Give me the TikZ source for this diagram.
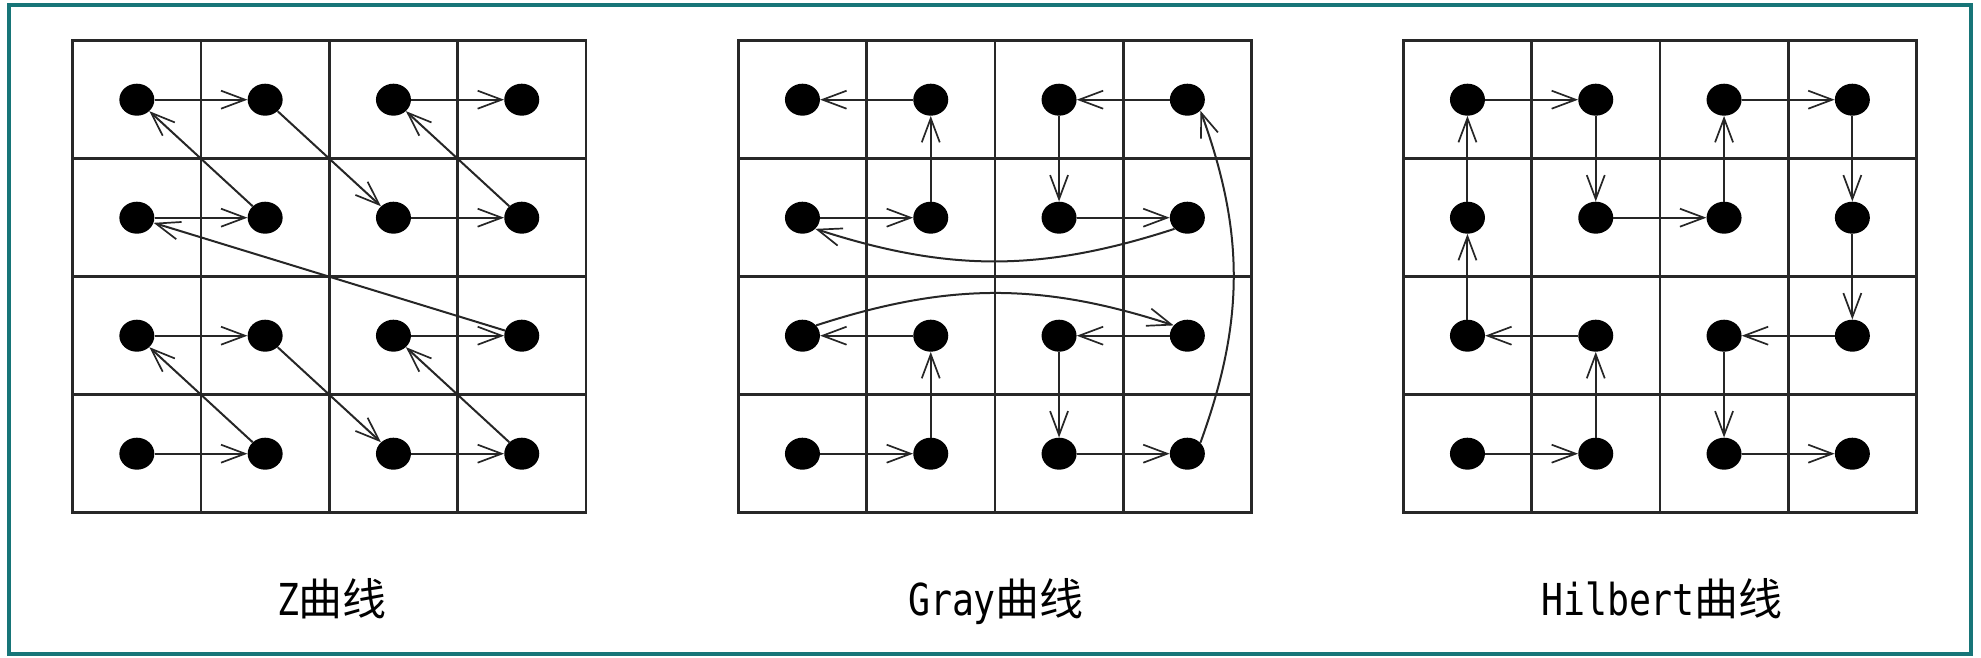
\documentclass[tikz,border=0pt]{standalone}
\usepackage{fontspec}
\newfontfamily\cjkf{Noto Sans CJK SC}
\newfontfamily\monof[FakeStretch=0.83]{DejaVu Sans Mono}
\usetikzlibrary{arrows.meta,shapes.geometric}
\definecolor{framec}{RGB}{23,117,120}
\definecolor{gridc}{RGB}{40,40,40}
\begin{document}
\begin{tikzpicture}[x=1pt,y=1pt,
  dotn/.style={ellipse,fill=black,minimum width=35pt,minimum height=32pt,inner sep=0pt},
  con/.style={line width=2pt,draw=black!85,-{Straight Barb[length=24pt,width=18pt,line width=1.7pt]}},
  gl/.style={line width=2.6pt,draw=gridc,line cap=rect},
  lab/.style={anchor=base,inner sep=0pt,font=\fontsize{44pt}{48pt}\selectfont}]
\useasboundingbox (0,0) rectangle (1981,-658);
\draw[framec, line width=3.5pt] (9,-5) rectangle (1971,-654);

\foreach \n/\ox in {z/72.7,g/738.3,h/1403.3}{
  \foreach \i in {0,...,4}{
    \draw[gl] (\ox+128.3*\i,-40.7) -- (\ox+128.3*\i,-512.7);
    \draw[gl] (\ox,-40.7-118*\i) -- (\ox+513.2,-40.7-118*\i);
  }
  \foreach \c in {0,...,3}{\foreach \r in {0,...,3}{
    \node[dotn] (\n\c\r) at (\ox+128.3*\c+64.15, -40.7-118*\r-59) {};
  }}
}

% Z curve
\draw[con] (z03) -- (z13);
\draw[con] (z13) -- (z02);
\draw[con] (z02) -- (z12);
\draw[con] (z12) -- (z23);
\draw[con] (z23) -- (z33);
\draw[con] (z33) -- (z22);
\draw[con] (z22) -- (z32);
\draw[con] (z32) -- (z01);
\draw[con] (z01) -- (z11);
\draw[con] (z11) -- (z00);
\draw[con] (z00) -- (z10);
\draw[con] (z10) -- (z21);
\draw[con] (z21) -- (z31);
\draw[con] (z31) -- (z20);
\draw[con] (z20) -- (z30);

% Gray curve
\draw[con] (g03) -- (g13);
\draw[con] (g13) -- (g12);
\draw[con] (g12) -- (g02);
\draw[con] (g02.37) to[bend left=18] (g32.143);
\draw[con] (g32) -- (g22);
\draw[con] (g22) -- (g23);
\draw[con] (g23) -- (g33);
\draw[con] (g33.40) to[bend right=20] (g30.-40);
\draw[con] (g30) -- (g20);
\draw[con] (g20) -- (g21);
\draw[con] (g21) -- (g31);
\draw[con] (g31.221) to[bend left=18] (g01.-41);
\draw[con] (g01) -- (g11);
\draw[con] (g11) -- (g10);
\draw[con] (g10) -- (g00);

% Hilbert curve
\draw[con] (h03) -- (h13);
\draw[con] (h13) -- (h12);
\draw[con] (h12) -- (h02);
\draw[con] (h02) -- (h01);
\draw[con] (h01) -- (h00);
\draw[con] (h00) -- (h10);
\draw[con] (h10) -- (h11);
\draw[con] (h11) -- (h21);
\draw[con] (h21) -- (h20);
\draw[con] (h20) -- (h30);
\draw[con] (h30) -- (h31);
\draw[con] (h31) -- (h32);
\draw[con] (h32) -- (h22);
\draw[con] (h22) -- (h23);
\draw[con] (h23) -- (h33);

\node[lab] (lz) at (332,-615) {\monof Z\cjkf 曲线};
\node[lab] (lg) at (996,-615) {\monof Gray\cjkf 曲线};
\node[lab] (lh) at (1662,-615) {\monof Hilbert\cjkf 曲线};
\end{tikzpicture}
\end{document}
